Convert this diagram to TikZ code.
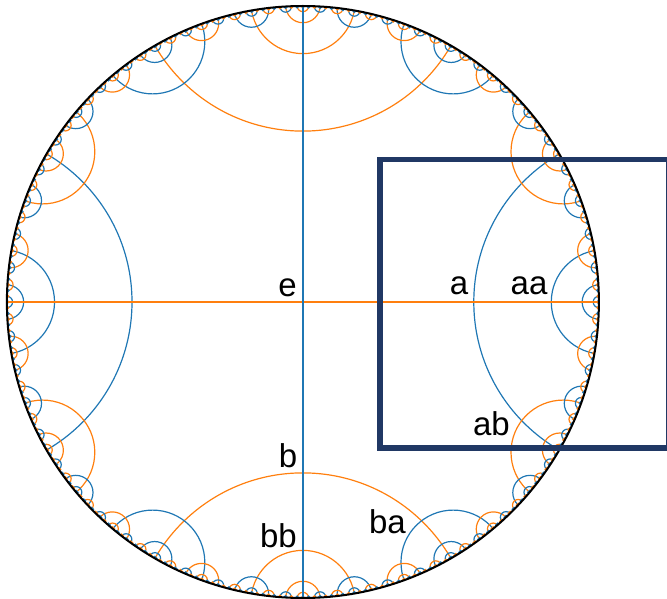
\documentclass[tikz,border=0pt]{standalone}
\usepackage{fontspec}
\setmainfont{Liberation Sans}
\definecolor{tabblue}{RGB}{31,119,180}
\definecolor{taborange}{RGB}{255,127,14}
\definecolor{frameblue}{RGB}{32,56,100}
\tikzset{
  bline/.style={draw=tabblue, line width=1.2pt},
  oline/.style={draw=taborange, line width=1.2pt},
  lbl/.style={font=\fontsize{33}{40}\selectfont, inner sep=0pt},
}
\ExplSyntaxOn
\fp_const:Nn \c_hb_R_fp {296}
\fp_const:Nn \c_hb_X_fp {302.9}
\fp_const:Nn \c_hb_Y_fp {296}
\fp_const:Nn \c_hb_rmin_fp {1.8}
\tl_new:N \l_hb_cmd_tl
% a vertex whose cone of ends has centre #1 and width #2 (degrees):
% its line runs between the ends #1 - #2/3 and #1 + #2/3
\cs_new_protected:Npn \hb_proc:nnnn #1#2#3#4
{
  \fp_compare:nNnF { \c_hb_R_fp * tand((#2)/3) } < { \c_hb_rmin_fp }
  {
    \tl_set:Nx \l_hb_cmd_tl
    {
      \exp_not:N \draw [#3]
      ( \fp_eval:n { round(\c_hb_X_fp + \c_hb_R_fp * secd((#2)/3) * cosd(#1), 3) } ,
        \fp_eval:n { round(\c_hb_Y_fp + \c_hb_R_fp * secd((#2)/3) * sind(#1), 3) } )
      circle [ radius = \fp_eval:n { round(\c_hb_R_fp * tand((#2)/3), 3) } ] ;
    }
    \tl_use:N \l_hb_cmd_tl
    \hb_children:nnnnn {#1} {#2} {1} {#4} {#3}
  }
}
\cs_new_protected:Npn \hb_children:nnnnn #1#2#3#4#5
{
  \fp_compare:nNnF { \c_hb_R_fp * tand((#2)/(3^(#3+1))) } < { \c_hb_rmin_fp }
  {
    \hb_proc:xxnn { \fp_eval:n {(#1) + (#2)/3} } { \fp_eval:n {(#2)/(3^(#3))} } {#4} {#5}
    \hb_proc:xxnn { \fp_eval:n {(#1) - (#2)/3} } { \fp_eval:n {(#2)/(3^(#3))} } {#4} {#5}
    \hb_children:nnxnn {#1} {#2} { \int_eval:n {#3+1} } {#4} {#5}
  }
}
\cs_generate_variant:Nn \hb_proc:nnnn { xxnn }
\cs_generate_variant:Nn \hb_children:nnnnn { nnxnn }
\NewDocumentCommand \hbdrawall {}
{
  \int_step_inline:nnn {1} {8}
  {
    \hb_proc:xxnn {0}   { \fp_eval:n {90/(3^(##1-1))} } {bline} {oline}
    \hb_proc:xxnn {180} { \fp_eval:n {90/(3^(##1-1))} } {bline} {oline}
    \hb_proc:xxnn {90}  { \fp_eval:n {90/(3^(##1-1))} } {oline} {bline}
    \hb_proc:xxnn {270} { \fp_eval:n {90/(3^(##1-1))} } {oline} {bline}
  }
}
\ExplSyntaxOff

\begin{document}
\begin{tikzpicture}[x=1pt,y=1pt]
\useasboundingbox (0,0) rectangle (667,598);
\clip (0,0) rectangle (667,598);
\coordinate (o) at (302.9,296);
\begin{scope}
  \clip (o) circle[radius=296];
  \hbdrawall
  \draw[oline] (6.9,296) -- (598.9,296);
  \draw[bline] (302.9,0) -- (302.9,592);
\end{scope}
\draw[black, line width=2pt] (o) circle[radius=296];
\draw[frameblue, line width=5.5pt] (380,438.5) rectangle (669,150.2);
\node[lbl, anchor=base east] (le) at (297,301) {e};
\node[lbl, anchor=base] (la) at (459,303) {a};
\node[lbl, anchor=base] (laa) at (529,303) {aa};
\node[lbl, anchor=base east] (lb) at (297.5,131) {b};
\node[lbl, anchor=base east] (lbb) at (297,51) {bb};
\node[lbl, anchor=base] (lba) at (387.5,65) {ba};
\node[lbl, anchor=base] (lab) at (491.5,163) {ab};
\end{tikzpicture}
\end{document}
